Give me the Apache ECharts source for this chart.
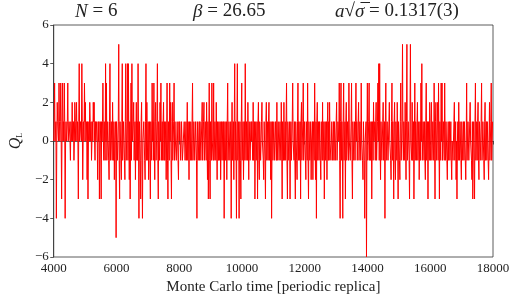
<!DOCTYPE html>
<html>
<head>
<meta charset="utf-8">
<script src="https://cdn.jsdelivr.net/npm/echarts@6/dist/echarts.min.js"></script>
<style>
html,body{margin:0;padding:0;background:#fff;}
#chart{width:517px;height:301px;}
</style>
</head>
<body>
<div id="chart"></div>
<script>
// Monte Carlo time axis
const mcStart = 4000;
const mcEnd = 18000;
const xTicks = [4000, 6000, 8000, 10000, 12000, 14000, 16000, 18000];
const yTicks = [-6, -4, -2, 0, 2, 4, 6];

// Topological charge Q_L in six consecutive stretches
const qA = [0,1,3,0,0,1,-4,0,2,1,1,0,3,1,0,1,3,0,-3,1,3,0,1,0,3,1,-4,0,1,0,0,1,3,0,0,1,1,0,-1,1,1,0,2,0,0,1,-1,0,2,1,0,1,2,0,1,0,-3,1,4,0,0,1,1,0,4,1,-2,0,1,0,3,1,2,0,0,1,-2,1,-3,0,1,0,2,1,0,1,-1,0,1,0,2,1,2,0,-1,1,0,1,1,0,-2,1,0,1,-3,0,1,0,-3,1,0,1,3,0,-1,1,1,-1,4,0,3,-1,-1,1,0,-1,-2,1,4,-1,0,1,1,-1,2,0,-1,1,-2,0,0,1,-5,1,1,-1,-1,1,5,-1,-3,1,0,-1,-2,1,4,-1,-1,1,1,-1,-2,1,4,-1,0,1];
const qB = [4,-1,4,0,-2,1,-3,0,3,-1,4,0,0,1,2,-1,-1,1,-2,0,2,-1,1,-1,4,0,-4,1,1,-1,-3,1,2,-1,-4,0,0,1,1,-1,-2,1,4,-1,2,0,-1,1,-2,0,1,-1,-3,1,0,-1,3,0,1,-1,3,0,-2,1,2,-1,0,1,4,-1,-3,1,1,-1,2,0,3,-1,0,1,-1,1,2,-1,1,-1,-1,1,-2,0,3,-1,-3,1,0,-1,3,0,2,-1,-3,1,2,-1,0,1,3,-1,1,0,0,-1,-1,1,1,-1,-2,1,0,1,1,-1,0,1,1,-1,-1,0,0,1,1,-1,0,1,-1,0,2,-1,1,0,-2,1,0,-1,1,0,-1,1,3,-1,0,1,1,-1,-1,1,0,-1,-4,1,1,-1,0,1,-1,1,1,-1,0,1];
const qC = [2,-1,0,1,2,-1,-1,1,1,-1,2,0,-2,1,-3,0,3,-1,-3,1,1,-1,3,0,0,-1,3,-1,-1,1,1,-1,2,0,-2,1,0,-1,1,-1,-1,1,-2,0,1,-1,0,1,-1,1,-4,0,1,-1,0,1,-2,1,3,-1,0,1,1,-1,-1,1,-4,0,2,-1,0,1,-2,1,4,-1,1,0,-4,1,4,-1,0,1,-4,0,1,-1,-3,1,3,-1,0,1,-2,0,1,-1,4,0,-1,1,0,-1,2,0,-2,1,1,-1,-1,1,0,1,1,-1,2,-1,-1,1,-3,0,1,-1,0,1,-3,1,2,-1,-2,1,1,-1,-1,1,2,0,0,-1,-2,1,1,-1,-3,1,2,-1,0,1,-1,1,2,-1,1,0,-2,1,-4,0,1,-1,0,1,1,-1,-1,1,0,-1];
const qD = [2,-1,0,1,1,-1,-1,1,0,-1,2,0,-3,1,1,-1,2,-1,0,1,-1,1,3,-1,-3,1,1,-1,0,1,-3,0,1,-1,-1,1,3,0,0,-1,1,-1,-3,1,0,-1,-2,1,3,-1,1,0,-1,1,-3,1,2,-1,0,1,3,-1,-1,1,1,-1,-2,1,0,-1,3,-1,-3,1,1,-1,-1,1,-2,0,0,1,-2,1,1,-1,3,0,-2,1,-4,1,2,-1,0,1,-1,1,1,-1,-2,1,0,-1,2,-1,-1,1,-3,0,1,-1,0,1,-2,1,2,-1,1,-1,2,0,0,-1,-1,1,1,-1,0,1,-1,1,1,-1,0,1,2,-1,-1,1,1,0,3,-1,-4,1,3,-1,1,0,-4,1,3,-1,0,1,-3,1,2,-1,-1,1,1,-1,3,0,0,-1,-1,1];
const qE = [3,-1,-3,1,1,-1,0,1,-1,1,3,0,1,-1,0,1,2,-1,-1,1,1,-1,3,0,0,-1,-2,1,1,-1,-4,0,0,1,-6,0,3,-1,0,1,3,-1,1,-1,-1,1,-3,0,1,-1,2,0,0,1,-1,1,2,-1,0,1,3,0,4,-1,4,0,-2,1,1,-1,0,1,2,-1,-1,1,-4,1,3,-1,0,1,1,-1,-1,1,2,0,0,-1,-2,1,3,-1,1,0,-3,1,2,-1,-2,1,0,-1,2,0,-3,1,1,-1,-2,1,3,-1,0,1,5,0,-1,1,1,-1,2,0,-2,1,5,-1,0,1,1,-1,-3,1,5,0,0,-1,2,-1,-1,1,-3,0,3,-1,1,0,-1,1,2,-1,0,1,-2,0,1,-1,3,0,4,-1,-1,1,0,-1,1,-1,-2,1];
const qF = [3,-1,0,1,-3,1,1,-1,2,0,-1,1,2,-1,0,1,1,-1,3,0,-3,1,2,-1,0,1,2,-1,3,0,-3,1,1,-1,3,0,3,-1,0,1,1,-1,3,0,-1,1,0,-1,-2,0,1,-1,0,1,-1,0,1,-1,-2,0,0,-1,-1,1,2,-1,0,1,-2,0,-3,0,1,-1,2,0,-1,1,0,-1,-2,1,1,-1,0,1,-1,1,1,-1,-2,0,3,-1,0,1,1,-1,-1,1,2,0,0,-1,-2,1,-3,0,1,-1,-3,1,3,-1,0,1,-1,1,2,-1,-2,1,1,-1,0,1,3,-1,-1,1,1,-1,-2,1,2,-1,0,1,-1,1,1,-1,-2,0,2,-1,0,1,3,-1,-1,1,1];

const qValues = [].concat(qA, qB, qC, qD, qE, qF);
const mcStep = (mcEnd - mcStart) / (qValues.length - 1);
const seriesData = qValues.map((q, i) => [mcStart + i * mcStep, q]);

const FONT = 'Liberation Serif';
const chart = echarts.init(document.getElementById('chart'), null, {renderer: 'canvas'});
const fmtMinus = v => String(v).replace('-', '\u2212');
const titleRich = {i: {fontFamily: FONT, fontStyle: 'italic', fontSize: 19, fill: '#222'}};

chart.setOption({
  animation: false,
  backgroundColor: '#fff',
  grid: {left: 47, right: 24, top: 25, bottom: 44, show: true, borderColor: '#333', borderWidth: 0.8, backgroundColor: 'transparent'},
  xAxis: {
    type: 'value', min: mcStart, max: mcEnd, interval: 2000,
    axisLine: {show: true, lineStyle: {color: '#333', width: 0.8}},
    axisTick: {show: true, length: 3.5, lineStyle: {color: '#333', width: 0.8}},
    splitLine: {show: false},
    axisLabel: {color: '#222', fontFamily: FONT, fontSize: 13, margin: 5, alignMinLabel: 'center', alignMaxLabel: 'center',
      formatter: v => xTicks.includes(v) ? String(v) : ''},
    name: 'Monte Carlo time [periodic replica]',
    nameLocation: 'middle', nameGap: 23,
    nameTextStyle: {color: '#222', fontFamily: FONT, fontSize: 15}
  },
  yAxis: {
    type: 'value', min: -6, max: 6, interval: 2,
    axisLine: {show: true, lineStyle: {color: '#333', width: 0.8}},
    axisTick: {show: true, length: 3.5, lineStyle: {color: '#333', width: 0.8}},
    splitLine: {show: false},
    axisLabel: {color: '#222', fontFamily: FONT, fontSize: 13, margin: 5, formatter: v => yTicks.includes(v) ? fmtMinus(v) : ''},
    name: '{q|Q}{s|L}',
    nameLocation: 'middle', nameGap: 28, nameRotate: 90,
    nameTextStyle: {
      rich: {
        q: {fontFamily: FONT, fontStyle: 'italic', fontSize: 16, color: '#222'},
        s: {fontFamily: FONT, fontSize: 8, color: '#222', padding: [8, 0, 0, 0]}
      }
    }
  },
  graphic: [
    {type: 'text', left: 75, top: 2, style: {text: '{i|N} = 6', rich: titleRich, font: '19px "Liberation Serif"', fill: '#222'}},
    {type: 'text', left: 193, top: 2, style: {text: '{i|\u03b2} = 26.65', rich: titleRich, font: '19px "Liberation Serif"', fill: '#222'}},
    {type: 'text', left: 335, top: 2, style: {text: '{i|a}\u221a{i|\u03c3\u0305} = 0.1317(3)', rich: titleRich, font: '19px "Liberation Serif"', fill: '#222'}}
  ],
  series: [{
    type: 'line',
    data: seriesData,
    showSymbol: false,
    symbol: 'none',
    lineStyle: {color: '#ff0000', width: 1},
    itemStyle: {color: '#ff0000'}
  }]
});
</script>
</body>
</html>
